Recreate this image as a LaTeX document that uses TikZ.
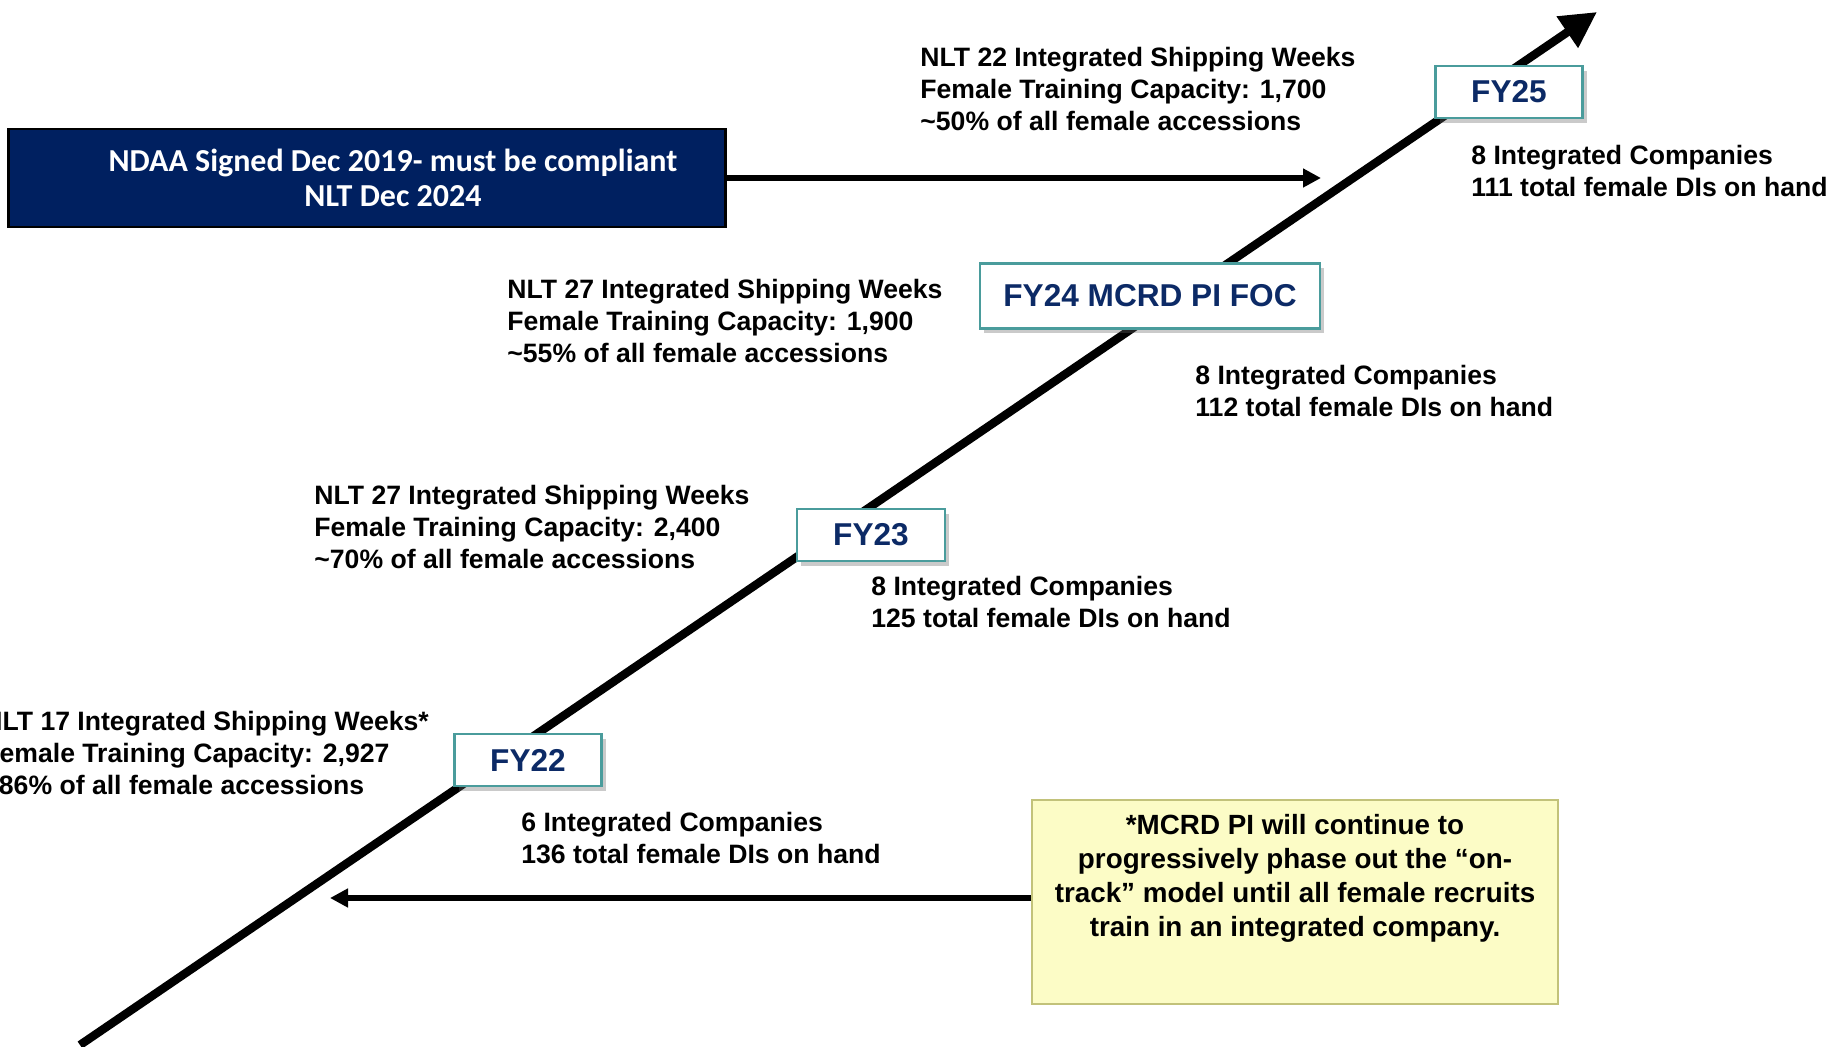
\documentclass[tikz,border=0pt]{standalone}
\usepackage{fontspec}
\setmainfont{Liberation Sans}
\newfontfamily\calibri{Carlito}
\usetikzlibrary{arrows.meta,shadows}
\definecolor{fynavy}{HTML}{0C2A66}
\definecolor{ndaablue}{HTML}{002060}
\definecolor{fyteal}{HTML}{4A9C9C}
\definecolor{notefill}{HTML}{FCFCC6}
\definecolor{notedraw}{HTML}{C2C27A}
\begin{document}
\begin{tikzpicture}[x=0.5pt,y=-0.5pt,>=stealth,
  fybox/.style={draw=fyteal,line width=1.2pt,fill=white,text=fynavy,
    font=\bfseries\fontsize{15.8}{19}\selectfont,minimum height=26pt,
    drop shadow={shadow xshift=2pt,shadow yshift=-2.5pt,opacity=0.35,fill=black!60}},
  info/.style={anchor=west,align=left,inner sep=0pt,
    font=\bfseries\fontsize{13.3}{16}\selectfont}]
  \useasboundingbox (0,0) rectangle (1833,1047);
  \coordinate (base) at (80,1045);
  \coordinate (tip) at (1597,12);
  \draw[line width=4.2pt,-{Triangle[length=18pt,width=18pt]}] (base) -- (tip);
  \node[fybox,minimum width=73.5pt] (fy22) at (528,760) {FY22};
  \node[fybox,minimum width=74pt] (fy23) at (871,535) {FY23};
  \node[fybox,minimum width=170pt,minimum height=32.5pt] (fy24) at (1150,296) {FY24 MCRD PI FOC};
  \node[fybox,minimum width=73.5pt] (fy25) at (1509,92) {FY25};
  \node[draw=black,line width=1.2pt,fill=ndaablue,minimum width=358.5pt,minimum height=49pt] (ndaa) at (367,178) {};
  \node[align=center,text=white,font=\calibri\bfseries\fontsize{16}{17.5}\selectfont] (ndaatext) at ([xshift=13pt]ndaa.center)
       {NDAA Signed Dec 2019- must be compliant\\NLT Dec 2024};
  \coordinate (ndaaend) at (1321,178);
  \draw[line width=3pt,-{Triangle[length=9pt,width=9pt]}] (ndaa.east) -- (ndaaend);
  \node[info] (cap25) at (920,89) {NLT 22 Integrated Shipping Weeks\\Female Training Capacity: 1,700\\\textasciitilde50\% of all female accessions};
  \node[info] (co25) at (1471,171) {8 Integrated Companies\\111 total female DIs on hand};
  \node[info] (cap24) at (507,321) {NLT 27 Integrated Shipping Weeks\\Female Training Capacity: 1,900\\\textasciitilde55\% of all female accessions};
  \node[info] (co24) at (1195,391) {8 Integrated Companies\\112 total female DIs on hand};
  \node[info] (cap23) at (314,527) {NLT 27 Integrated Shipping Weeks\\Female Training Capacity: 2,400\\\textasciitilde70\% of all female accessions};
  \node[info] (co23) at (871,602) {8 Integrated Companies\\125 total female DIs on hand};
  \node[info] (cap22) at (-17,753) {NLT 17 Integrated Shipping Weeks*\\Female Training Capacity: 2,927\\\textasciitilde86\% of all female accessions};
  \node[info] (co22) at (521,838) {6 Integrated Companies\\136 total female DIs on hand};
  \node[draw=notedraw,line width=1pt,fill=notefill,minimum width=263pt,minimum height=101.5pt] (note) at (1295,902) {};
  \node[anchor=north,align=center,inner sep=0pt,font=\bfseries\fontsize{13.9}{17}\selectfont] (notetext) at ([yshift=-7pt]note.north)
       {*MCRD PI will continue to\\progressively phase out the “on-\\track” model until all female recruits\\train in an integrated company.};
  \coordinate (noteend) at (330,898);
  \draw[line width=3pt,-{Triangle[length=9pt,width=9pt]}] ([yshift=2pt]note.west) -- (noteend);
\end{tikzpicture}
\end{document}
